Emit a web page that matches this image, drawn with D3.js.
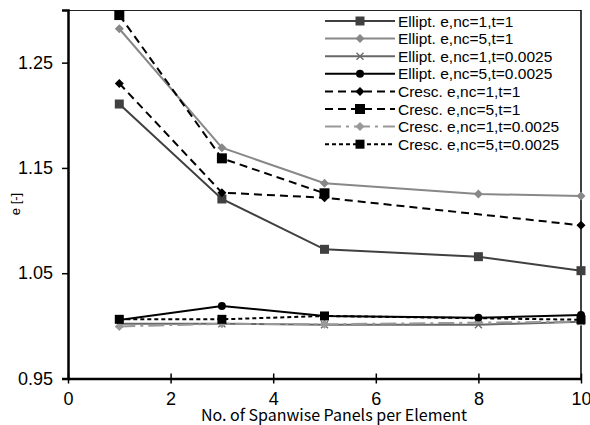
<!DOCTYPE html>
<html>
<head>
<meta charset="utf-8">
<script src="https://cdn.jsdelivr.net/npm/d3@7"></script>
<style>
  html, body { margin: 0; padding: 0; background: #fff; }
  svg { display: block; }
  .arial { font-family: "Liberation Sans", Arial, Helvetica, sans-serif; }
  .ktitle { font-family: "Noto Sans CJK KR", "Noto Sans", sans-serif; }
</style>
</head>
<body>
<svg id="chart" width="590" height="425"></svg>
<script>
// ---- data ----
const xTicks = [0, 2, 4, 6, 8, 10];
const yTicks = [0.95, 1.05, 1.15, 1.25];
const seriesNames = [
  "Ellipt. e,nc=1,t=1",
  "Ellipt. e,nc=5,t=1",
  "Ellipt. e,nc=1,t=0.0025",
  "Ellipt. e,nc=5,t=0.0025",
  "Cresc. e,nc=1,t=1",
  "Cresc. e,nc=5,t=1",
  "Cresc. e,nc=1,t=0.0025",
  "Cresc. e,nc=5,t=0.0025"
];
const xEllipt = [1, 3, 5, 8, 10];
const ellNc1T1 = [1.2107, 1.1205, 1.0727, 1.0657, 1.0524];
const ellNc5T1 = [1.2822, 1.1692, 1.1354, 1.1252, 1.1233];
const ellNc1T0025 = [1.002, 1.002, 1.001, 1.001, 1.004];
const ellNc5T0025 = [1.0056, 1.0189, 1.0094, 1.0077, 1.0103];
const xCresc = [1, 3, 5, 10];
const xCrescNc5T1 = [1, 3, 5];
const crNc1T1 = [1.2303, 1.1265, 1.1217, 1.0955];
const crNc5T1 = [1.2952, 1.1591, 1.1259];
const crNc1T0025 = [0.9995, 1.002, 1.0015, 1.004];
const crNc5T0025 = [1.0062, 1.0062, 1.0094, 1.0058];

// ---- styles ----
const styles = [
  {x: xEllipt, y: ellNc1T1, color: "#404040", dash: null, marker: "square", size: 9, w: 2},
  {x: xEllipt, y: ellNc5T1, color: "#888888", dash: null, marker: "diamond", size: 8, w: 2},
  {x: xEllipt, y: ellNc1T0025, color: "#686868", dash: null, marker: "x", size: 7, w: 2},
  {x: xEllipt, y: ellNc5T0025, color: "#000000", dash: null, marker: "circle", size: 8, w: 2},
  {x: xCresc, y: crNc1T1, color: "#000000", dash: "8,5", marker: "diamond", size: 8, w: 2},
  {x: xCrescNc5T1, y: crNc5T1, color: "#000000", dash: "8,5", marker: "square", size: 10, w: 2},
  {x: xCresc, y: crNc1T0025, color: "#999999", dash: "16,5,3,5", marker: "diamond", size: 8, w: 2},
  {x: xCresc, y: crNc5T0025, color: "#000000", dash: "4,3", marker: "square", size: 9, w: 2}
];

const svg = d3.select("#chart");
const L = 68, R = 581, T = 10, B = 378.5;
const x = d3.scaleLinear().domain([0, 10]).range([L, R]);
const y = d3.scaleLinear().domain([0.95, 1.3]).range([B, T]);

// frame: top and right
svg.append("line").attr("x1", L).attr("x2", R).attr("y1", T + 0.5).attr("y2", T + 0.5)
  .attr("stroke", "#222").attr("stroke-width", 1);
svg.append("line").attr("x1", R).attr("x2", R).attr("y1", T).attr("y2", B)
  .attr("stroke", "#000").attr("stroke-width", 1.5);

function drawMarker(g, type, cx, cy, s, color) {
  if (type === "square") {
    g.append("rect").attr("x", cx - s / 2).attr("y", cy - s / 2).attr("width", s).attr("height", s).attr("fill", color);
  } else if (type === "diamond") {
    const h = s / 2 + 0.5;
    g.append("path").attr("d", `M${cx},${cy - h}L${cx + h},${cy}L${cx},${cy + h}L${cx - h},${cy}Z`).attr("fill", color);
  } else if (type === "circle") {
    g.append("circle").attr("cx", cx).attr("cy", cy).attr("r", s / 2).attr("fill", color);
  } else if (type === "x") {
    const h = s / 2;
    g.append("path").attr("d", `M${cx - h},${cy - h}L${cx + h},${cy + h}M${cx - h},${cy + h}L${cx + h},${cy - h}`)
      .attr("stroke", color).attr("stroke-width", 1.3).attr("fill", "none");
  }
}

const plot = svg.append("g");
const lineGen = d3.line().x(d => x(d[0])).y(d => y(d[1]));
styles.forEach(s => {
  const pts = s.x.map((v, i) => [v, s.y[i]]);
  plot.append("path").datum(pts).attr("d", lineGen)
    .attr("fill", "none").attr("stroke", s.color).attr("stroke-width", s.w)
    .attr("stroke-dasharray", s.dash);
  pts.forEach(p => drawMarker(plot, s.marker, x(p[0]), y(p[1]), s.size, s.color));
});

// axes
const yAxis = svg.append("g").attr("transform", `translate(${L},0)`)
  .call(d3.axisLeft(y).tickValues(yTicks).tickFormat(d3.format(".2f")).tickSize(6).tickPadding(9));
yAxis.attr("font-family", null).attr("font-size", null);
yAxis.select(".domain").attr("stroke", "#000").attr("stroke-width", 2.5);
yAxis.selectAll(".tick line").attr("stroke", "#000").attr("stroke-width", 1.5);
yAxis.selectAll("text").attr("class", "arial").style("font-size", "18px").attr("fill", "#000");

const xAxis = svg.append("g").attr("transform", `translate(0,${B})`)
  .call(d3.axisBottom(x).tickValues(xTicks).tickFormat(d3.format("d")).tickSizeInner(5).tickSizeOuter(0).tickPadding(9));
xAxis.attr("font-family", null).attr("font-size", null);
xAxis.select(".domain").attr("stroke", "#000").attr("stroke-width", 2.5);
xAxis.selectAll(".tick line").attr("stroke", "#000").attr("stroke-width", 1.5).attr("y1", -5);
xAxis.selectAll("text").attr("class", "arial").style("font-size", "18px").attr("fill", "#000");

// axis titles
svg.append("text").attr("class", "ktitle").attr("x", 334).attr("y", 421).attr("text-anchor", "middle")
  .style("font-size", "16px").attr("fill", "#000").text("No. of Spanwise Panels per Element");
svg.append("text").attr("class", "arial").attr("transform", "translate(20,204) rotate(-90)").attr("text-anchor", "middle")
  .style("font-size", "13px").attr("fill", "#000").text("e [-]");

// legend
const leg = svg.append("g");
styles.forEach((s, i) => {
  const cy = 21 + i * 17.6;
  leg.append("line").attr("x1", 325).attr("x2", 395).attr("y1", cy).attr("y2", cy)
    .attr("stroke", s.color).attr("stroke-width", s.w).attr("stroke-dasharray", s.dash);
  drawMarker(leg, s.marker, 360, cy, s.size, s.color);
  leg.append("text").attr("class", "arial").attr("x", 398).attr("y", cy + 5.5)
    .style("font-size", "15.5px").attr("fill", "#000").text(seriesNames[i]);
});
</script>
</body>
</html>
